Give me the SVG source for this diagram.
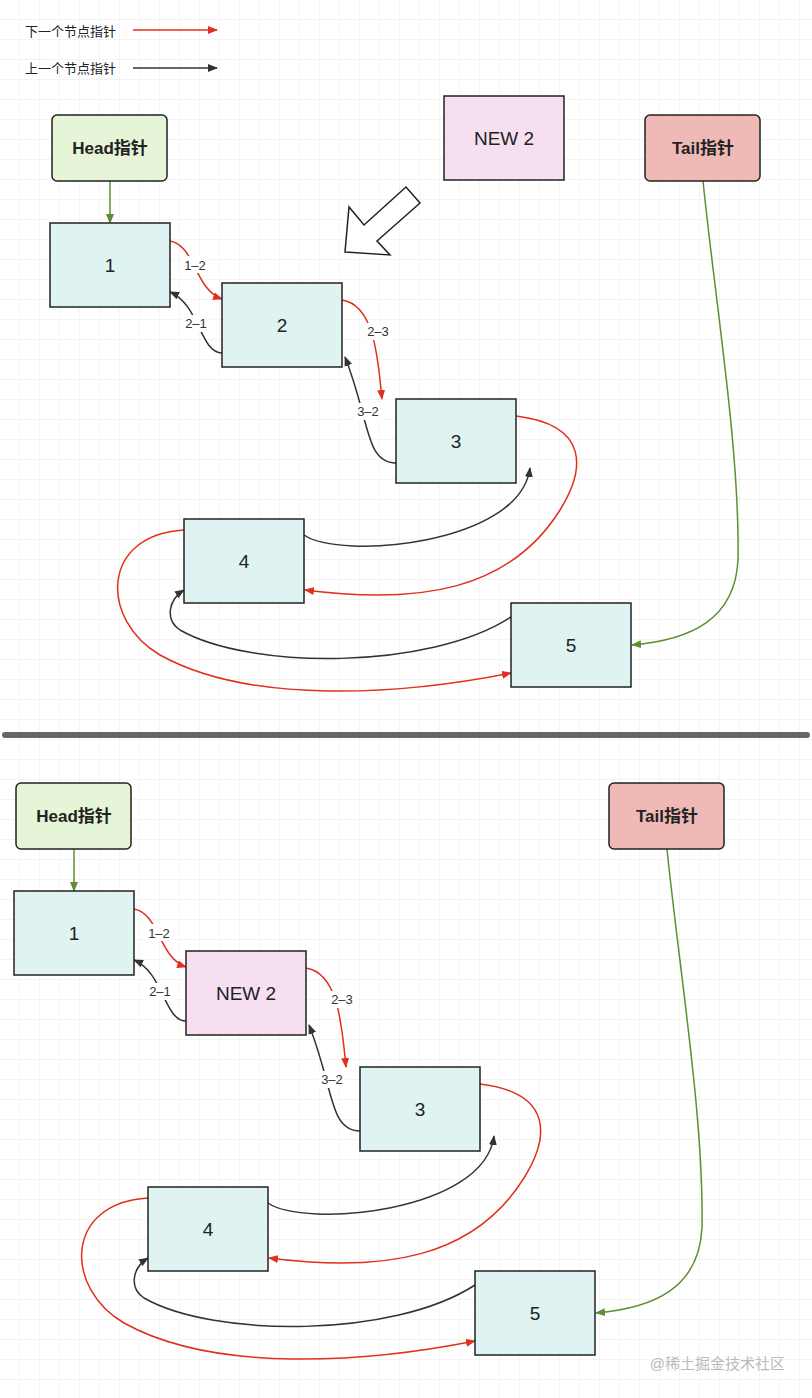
<svg xmlns="http://www.w3.org/2000/svg" width="812" height="1398" viewBox="0 0 812 1398">
<style>
text{font-family:"Liberation Sans",Arial,"Noto Sans CJK SC",sans-serif;fill:#222}
.n{fill:#dff3f3;stroke:#222;stroke-width:1.5}
.num{font-size:19px;text-anchor:middle;dominant-baseline:central}
.hd{font-size:17px;font-weight:bold;text-anchor:middle;dominant-baseline:central}
.r{fill:none;stroke:#e0301e;stroke-width:1.5;marker-end:url(#ar)}
.k{fill:none;stroke:#333;stroke-width:1.5;marker-end:url(#ak)}
.g{fill:none;stroke:#5e8e34;stroke-width:1.5;marker-end:url(#ag)}
.lb{font-size:13px;text-anchor:middle;dominant-baseline:central;fill:#333}
.lbb{fill:#fff}
</style>
<defs>
<pattern id="grid" width="20" height="20" patternUnits="userSpaceOnUse">
<path d="M20 0V20M0 20H20" fill="none" stroke="#e8e8e8" stroke-width="1"/>
</pattern>
<marker id="ar" markerWidth="10" markerHeight="8" refX="9" refY="4" orient="auto" markerUnits="userSpaceOnUse"><path d="M0,0L10,4L0,8z" fill="#e0301e"/></marker>
<marker id="ak" markerWidth="10" markerHeight="8" refX="9" refY="4" orient="auto" markerUnits="userSpaceOnUse"><path d="M0,0L10,4L0,8z" fill="#333"/></marker>
<marker id="ag" markerWidth="10" markerHeight="8" refX="9" refY="4" orient="auto" markerUnits="userSpaceOnUse"><path d="M0,0L10,4L0,8z" fill="#5e8e34"/></marker>
</defs>
<rect width="812" height="1398" fill="#fff"/>
<rect width="812" height="1398" fill="url(#grid)"/>

<g id="legend">
<text x="25" y="31" font-size="13" dominant-baseline="central">下一个节点指针</text>
<path d="M133,30H217" class="r"/>
<text x="25" y="68" font-size="13" dominant-baseline="central">上一个节点指针</text>
<path d="M133,68H217" class="k"/>
</g>

<g id="connectors">
<path d="M110,181V223" class="g"/>
<path d="M170,241C195,245 195,290 222,299" class="r"/>
<rect x="181" y="256" width="28" height="17" class="lbb"/><text x="195" y="265" class="lb">1–2</text>
<path d="M222,353C200,353 200,305 170,292" class="k"/>
<rect x="182" y="315" width="28" height="17" class="lbb"/><text x="196" y="323" class="lb">2–1</text>
<path d="M342,300C375,305 378,360 382,399" class="r"/>
<rect x="364" y="323" width="28" height="17" class="lbb"/><text x="378" y="331" class="lb">2–3</text>
<path d="M396,463C365,463 370,420 345,357" class="k"/>
<rect x="354" y="403" width="28" height="17" class="lbb"/><text x="368" y="411" class="lb">3–2</text>
<path d="M516,416C590,425 585,470 560,510C510,590 420,605 305,590" class="r"/>
<path d="M304,535C340,560 520,545 530,468" class="k"/>
<path d="M184,530C100,535 100,620 160,655C250,705 400,695 511,673" class="r"/>
<path d="M511,617C430,670 250,670 180,630C165,620 168,600 184,590" class="k"/>
<path d="M703,181C715,300 740,450 738,560C735,620 690,640 632,645" class="g"/>
</g>

<g id="head"><rect x="52" y="115" width="115" height="66" rx="5" fill="#e6f4d7" stroke="#222" stroke-width="1.5"/><text x="110" y="148" class="hd">Head指针</text></g>
<g id="tail"><rect x="645" y="115" width="115" height="66" rx="5" fill="#efb9b6" stroke="#222" stroke-width="1.5"/><text x="703" y="148" class="hd">Tail指针</text></g>
<g id="new2"><rect x="444" y="96" width="120" height="84" fill="#f5dff0" stroke="#222" stroke-width="1.5"/><text x="504" y="138" class="num">NEW 2</text></g>
<g id="bigarrow"><polygon points="345,252 390,255 377,241 420,203 406,187 364,225 349,207" fill="#fff" stroke="#222" stroke-width="1.5"/></g>
<g id="n1"><rect x="50" y="223" width="120" height="84" class="n"/><text x="110" y="265" class="num">1</text></g>
<g id="n2"><rect x="222" y="283" width="120" height="84" class="n"/><text x="282" y="325" class="num">2</text></g>
<g id="n3"><rect x="396" y="399" width="120" height="84" class="n"/><text x="456" y="441" class="num">3</text></g>
<g id="n4"><rect x="184" y="519" width="120" height="84" class="n"/><text x="244" y="561" class="num">4</text></g>
<g id="n5"><rect x="511" y="603" width="120" height="84" class="n"/><text x="571" y="645" class="num">5</text></g>

<g id="divider"><path d="M5,735H807" stroke="#666" stroke-width="6" stroke-linecap="round"/></g>

<g transform="translate(-36,668)">
<g id="connectors2">
<path d="M110,181V223" class="g"/>
<path d="M170,241C195,245 195,290 222,299" class="r"/>
<rect x="181" y="256" width="28" height="17" class="lbb"/><text x="195" y="265" class="lb">1–2</text>
<path d="M222,353C200,353 200,305 170,292" class="k"/>
<rect x="182" y="315" width="28" height="17" class="lbb"/><text x="196" y="323" class="lb">2–1</text>
<path d="M342,300C375,305 378,360 382,399" class="r"/>
<rect x="364" y="323" width="28" height="17" class="lbb"/><text x="378" y="331" class="lb">2–3</text>
<path d="M396,463C365,463 370,420 345,357" class="k"/>
<rect x="354" y="403" width="28" height="17" class="lbb"/><text x="368" y="411" class="lb">3–2</text>
<path d="M516,416C590,425 585,470 560,510C510,590 420,605 305,590" class="r"/>
<path d="M304,535C340,560 520,545 530,468" class="k"/>
<path d="M184,530C100,535 100,620 160,655C250,705 400,695 511,673" class="r"/>
<path d="M511,617C430,670 250,670 180,630C165,620 168,600 184,590" class="k"/>
<path d="M703,181C715,300 740,450 738,560C735,620 690,640 632,645" class="g"/>
</g>
<g id="head2"><rect x="52" y="115" width="115" height="66" rx="5" fill="#e6f4d7" stroke="#222" stroke-width="1.5"/><text x="110" y="148" class="hd">Head指针</text></g>
<g id="tail2"><rect x="645" y="115" width="115" height="66" rx="5" fill="#efb9b6" stroke="#222" stroke-width="1.5"/><text x="703" y="148" class="hd">Tail指针</text></g>
<g id="b1"><rect x="50" y="223" width="120" height="84" class="n"/><text x="110" y="265" class="num">1</text></g>
<g id="bnew2"><rect x="222" y="283" width="120" height="84" fill="#f5dff0" stroke="#222" stroke-width="1.5"/><text x="282" y="325" class="num">NEW 2</text></g>
<g id="b3"><rect x="396" y="399" width="120" height="84" class="n"/><text x="456" y="441" class="num">3</text></g>
<g id="b4"><rect x="184" y="519" width="120" height="84" class="n"/><text x="244" y="561" class="num">4</text></g>
<g id="b5"><rect x="511" y="603" width="120" height="84" class="n"/><text x="571" y="645" class="num">5</text></g>
</g>

<text x="785" y="1363" font-size="15" text-anchor="end" style="fill:#bbb" dominant-baseline="central">@稀土掘金技术社区</text>
</svg>
